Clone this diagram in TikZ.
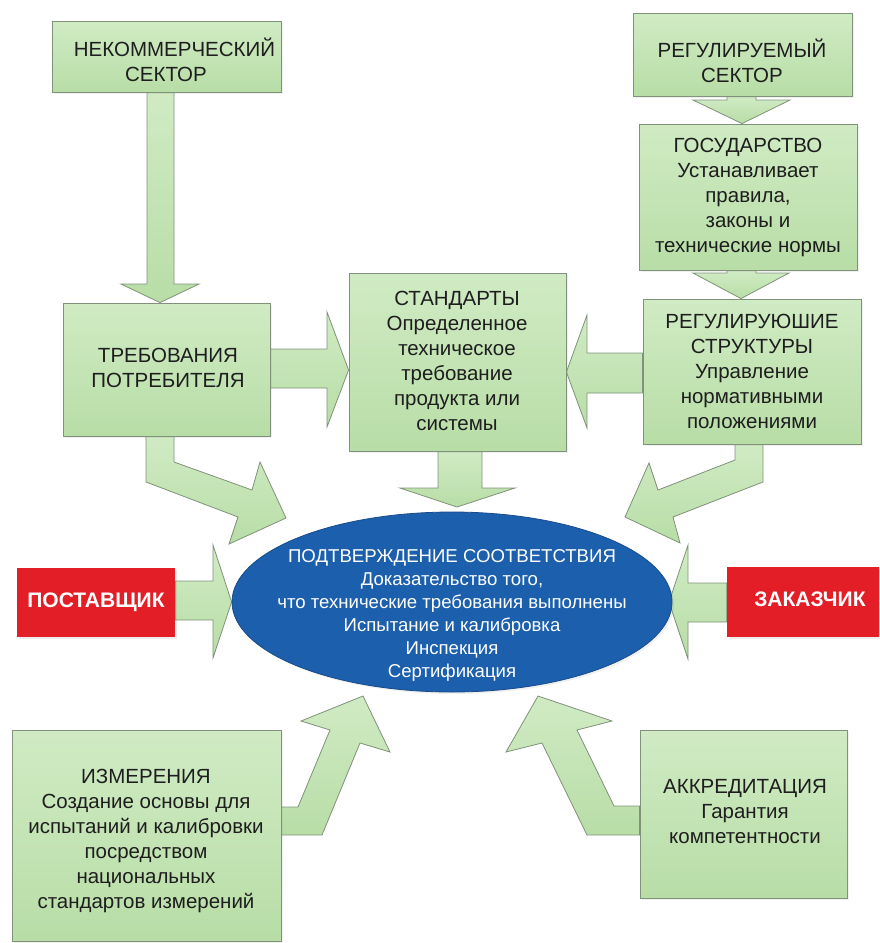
\documentclass[tikz,border=0pt]{standalone}
\usepackage{fontspec}
\setmainfont{Liberation Sans}
\usetikzlibrary{shapes.geometric,backgrounds,shadows}
\definecolor{gtop}{RGB}{208,235,196}
\definecolor{gbot}{RGB}{184,221,166}
\definecolor{gborder}{RGB}{128,146,122}
\definecolor{bluec}{RGB}{28,95,172}
\definecolor{blueb}{RGB}{24,74,140}
\definecolor{redc}{RGB}{228,30,38}
\definecolor{txt}{RGB}{30,30,30}
\tikzset{
  gbox/.style={rectangle, draw=gborder, line width=0.8pt, top color=gtop, bottom color=gbot, inner sep=0pt,
    drop shadow={opacity=0.12, shadow xshift=2pt, shadow yshift=-2pt}},
  gtext/.style={font=\fontsize{20.5pt}{25pt}\selectfont, align=center, text=txt, inner sep=0pt},
  btext/.style={font=\fontsize{18.6pt}{23pt}\selectfont, align=center, text=white, inner sep=0pt},
  rbox/.style={rectangle, fill=redc, draw=none, inner sep=0pt,
    drop shadow={opacity=0.15, shadow xshift=2pt, shadow yshift=-2pt}},
  rtext/.style={font=\fontsize{21pt}{24pt}\selectfont\bfseries, text=white, inner sep=0pt},
  garrow/.style={draw=gborder, line width=0.8pt, top color=gtop, bottom color=gbot, line join=miter},
}
\begin{document}
\begin{tikzpicture}[x=1pt,y=-1pt]
\useasboundingbox (0,0) rectangle (879,943);

% boxes
\node[gbox, minimum width=229pt, minimum height=71pt] (nk) at (166.5,56.5) {};
\node[gtext] (nkt) at (166,60) {\hspace*{17pt}НЕКОММЕРЧЕСКИЙ\\СЕКТОР};

\node[gbox, minimum width=219pt, minimum height=83pt] (rs) at (742.5,54.5) {};
\node[gtext] (rst) at (742,61) {РЕГУЛИРУЕМЫЙ\\СЕКТОР};

\node[gbox, minimum width=218pt, minimum height=146pt] (gos) at (748,197) {};
\node[gtext] (gost) at (748,197) {ГОСУДАРСТВО\\Устанавливает\\правила,\\законы и\\технические нормы};

\node[gbox, minimum width=218pt, minimum height=145pt] (reg) at (752,371.5) {};
\node[gtext] (regt) at (752,371.5) {РЕГУЛИРУЮШИЕ\\СТРУКТУРЫ\\Управление\\нормативными\\положениями};

\node[gbox, minimum width=217pt, minimum height=178pt] (std) at (457.5,362) {};
\node[gtext] (stdt) at (457,360.5) {СТАНДАРТЫ\\Определенное\\техническое\\требование\\продукта или\\системы};

\node[gbox, minimum width=207pt, minimum height=133pt] (tr) at (166.5,369.5) {};
\node[gtext] (trt) at (168,367.5) {ТРЕБОВАНИЯ\\ПОТРЕБИТЕЛЯ};

\node[ellipse, fill=bluec, draw=blueb, line width=0.8pt, minimum width=440pt, minimum height=180pt, inner sep=0pt,
  drop shadow={opacity=0.12, shadow xshift=2pt, shadow yshift=-2pt}] (pc) at (452,602) {};
\node[btext] (pct) at (452,615) {ПОДТВЕРЖДЕНИЕ СООТВЕТСТВИЯ\\Доказательство того,\\что технические требования выполнены\\Испытание и калибровка\\Инспекция\\Сертификация};

\node[rbox, minimum width=158pt, minimum height=69pt] (post) at (96,602.5) {};
\node[rtext] (postt) at (96,602) {ПОСТАВЩИК};

\node[rbox, minimum width=152pt, minimum height=70pt] (zak) at (803,602) {};
\node[rtext] (zakt) at (810,599) {ЗАКАЗЧИК};

\node[gbox, minimum width=269pt, minimum height=211pt] (izm) at (146.5,835.5) {};
\node[gtext] (izmt) at (146,841) {ИЗМЕРЕНИЯ\\Создание основы для\\испытаний и калибровки\\посредством\\национальных\\стандартов измерений};

\node[gbox, minimum width=207pt, minimum height=168pt] (akk) at (743.5,814) {};
\node[gtext] (akkt) at (745,811.5) {АККРЕДИТАЦИЯ\\Гарантия\\компетентности};

% block arrows
\begin{scope}[on background layer]
% nk -> tr
\path[garrow] (nk.south -| 147,0) -- (nk.south -| 174,0) -- (174,284) -- (199,284) -- (tr.north -| 160,0) -- (121,284) -- (147,284) -- cycle;
% rs -> gos
\path[garrow] (rs.south -| 727,0) -- (rs.south -| 756,0) -- (756,100) -- (790,100) -- (gos.north -| 742,0) -- (693,100) -- (727,100) -- cycle;
% gos -> reg
\path[garrow] (gos.south -| 727,0) -- (gos.south -| 756,0) -- (756,273) -- (789,273) -- (reg.north -| 741,0) -- (693,273) -- (727,273) -- cycle;
% tr -> std
\path[garrow] (tr.east |- 0,349) -- (327,349) -- (327,312) -- (std.west |- 0,370) -- (327,427) -- (327,388) -- (tr.east |- 0,388) -- cycle;
% reg -> std
\path[garrow] (reg.west |- 0,353) -- (587,353) -- (587,315) -- (std.east |- 0,372) -- (587,428) -- (587,393) -- (reg.west |- 0,393) -- cycle;
% std -> pc
\path[garrow] (std.south -| 438,0) -- (std.south -| 482,0) -- (482,488) -- (515,488) -- (457,507) -- (400,488) -- (438,488) -- cycle;
% tr -> pc
\path[garrow] (tr.south -| 174,0) -- (174,462) -- (252,490) -- (260,462) -- (286,518) -- (229,544) -- (238,517) -- (146,482) -- (tr.south -| 146,0) -- cycle;
% reg -> pc
\path[garrow] (reg.south -| 763,0) -- (763,482) -- (673,517) -- (680,543) -- (625,517) -- (649,463) -- (658,490) -- (735,460) -- (reg.south -| 735,0) -- cycle;
% post -> pc
\path[garrow] (post.east |- 0,581) -- (213,581) -- (213,545) -- (pc.west |- 0,602) -- (213,658) -- (213,620) -- (post.east |- 0,620) -- cycle;
% zak -> pc
\path[garrow] (zak.west |- 0,583) -- (688,583) -- (688,545) -- (669,602) -- (688,659) -- (688,622) -- (zak.west |- 0,622) -- cycle;
% izm -> pc
\path[garrow] (izm.east |- 0,807) -- (298,807) -- (330,730) -- (301,721) -- (363,696) -- (390,752) -- (360,743) -- (322,835) -- (izm.east |- 0,835) -- cycle;
% akk -> pc
\path[garrow] (akk.west |- 0,806) -- (614,806) -- (577,730) -- (612,721) -- (538,696) -- (506,752) -- (542,743) -- (587,835) -- (akk.west |- 0,835) -- cycle;
\end{scope}
\end{tikzpicture}
\end{document}
